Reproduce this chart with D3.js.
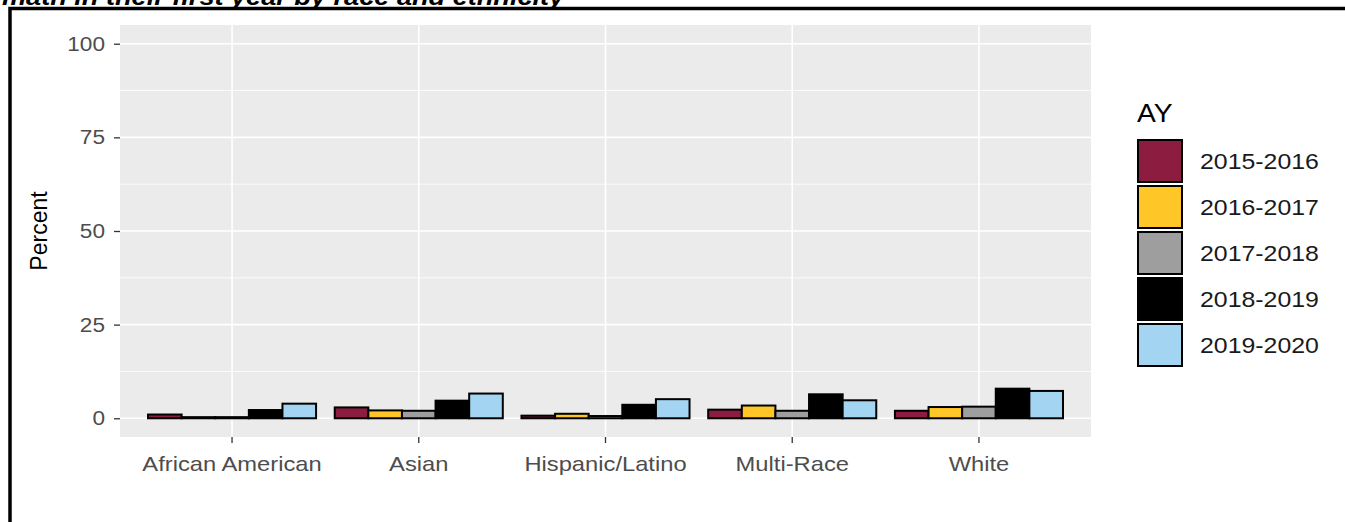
<!DOCTYPE html>
<html>
<head>
<meta charset="utf-8">
<script src="https://cdn.jsdelivr.net/npm/d3@7"></script>
<style>
  body { margin: 0; background: #fff; }
  svg { display: block; font-family: "Liberation Sans", Arial, sans-serif; }
</style>
</head>
<body>
<svg id="chart" width="1345" height="522"></svg>
<script>
// categories and series
const races = ['African American', 'Asian', 'Hispanic/Latino', 'Multi-Race', 'White'];
const years = ['2015-2016', '2016-2017', '2017-2018', '2018-2019', '2019-2020'];
const colors = ['#8C1D40', '#FFC627', '#9E9E9E', '#000000', '#A3D5F2'];

// percent per year, one value per race
const y2015 = [1.0, 2.9, 0.7, 2.3, 2.0];
const y2016 = [0.3, 2.1, 1.2, 3.4, 3.0];
const y2017 = [0.3, 2.0, 0.6, 2.0, 3.1];
const y2018 = [2.2, 4.7, 3.6, 6.4, 7.9];
const y2019 = [3.9, 6.6, 5.1, 4.8, 7.3];
const yTicks = [0, 25, 50, 75, 100];

const series = [y2015, y2016, y2017, y2018, y2019];
const rows = [];
races.forEach((r, i) => {
    years.forEach((yr, j) => {
        rows.push({ race: r, year: yr, value: series[j][i] });
    });
});

// the source picture is a bit wider than tall, so text is stretched sideways
const widen = 1.13;
function stretch(sel, k) {
    sel.each(function() {
        const w = this.getComputedTextLength();
        d3.select(this).attr('textLength', w * k).attr('lengthAdjust', 'spacingAndGlyphs');
    });
}

const svg = d3.select('#chart');

// title, cut off at the top of the picture
const title = svg.append('text')
    .attr('x', 2)
    .attr('y', 4.5)
    .style('font-size', '24px')
    .style('font-weight', 'bold')
    .style('font-style', 'italic')
    .attr('fill', '#000')
    .text('math in their first year by race and ethnicity');
stretch(title, widen);

// outer frame (only top and left visible)
svg.append('path')
    .attr('d', 'M10,522V8.5H1345')
    .attr('fill', 'none')
    .attr('stroke', '#000')
    .attr('stroke-width', 3.5);

const panel = { left: 120, right: 1091, top: 25, bottom: 437 };

const x = d3.scaleBand()
    .domain(races)
    .range([panel.left, panel.right])
    .paddingInner(0.1)
    .paddingOuter(0.15);

const xSub = d3.scaleBand()
    .domain(years)
    .range([0, x.bandwidth()]);

const y = d3.scaleLinear()
    .domain([-5, 105])
    .range([panel.bottom, panel.top]);

const color = d3.scaleOrdinal().domain(years).range(colors);

svg.append('rect')
    .attr('x', panel.left)
    .attr('y', panel.top)
    .attr('width', panel.right - panel.left)
    .attr('height', panel.bottom - panel.top)
    .attr('fill', '#EBEBEB');

// minor grid
svg.append('g')
    .selectAll('line')
    .data([12.5, 37.5, 62.5, 87.5])
    .join('line')
    .attr('x1', panel.left)
    .attr('x2', panel.right)
    .attr('y1', d => y(d))
    .attr('y2', d => y(d))
    .attr('stroke', '#fff')
    .attr('stroke-width', 0.8);

// major grid
svg.append('g')
    .selectAll('line')
    .data(yTicks)
    .join('line')
    .attr('x1', panel.left)
    .attr('x2', panel.right)
    .attr('y1', d => y(d))
    .attr('y2', d => y(d))
    .attr('stroke', '#fff')
    .attr('stroke-width', 1.6);

svg.append('g')
    .selectAll('line')
    .data(races)
    .join('line')
    .attr('x1', d => x(d) + x.bandwidth() / 2)
    .attr('x2', d => x(d) + x.bandwidth() / 2)
    .attr('y1', panel.top)
    .attr('y2', panel.bottom)
    .attr('stroke', '#fff')
    .attr('stroke-width', 1.6);

// bars
svg.append('g')
    .selectAll('rect')
    .data(rows)
    .join('rect')
    .attr('x', d => x(d.race) + xSub(d.year))
    .attr('y', d => y(d.value))
    .attr('width', xSub.bandwidth())
    .attr('height', d => y(0) - y(d.value))
    .attr('fill', d => color(d.year))
    .attr('stroke', '#000')
    .attr('stroke-width', 2);

// axes
const xAxis = svg.append('g')
    .attr('transform', 'translate(0,' + panel.bottom + ')')
    .call(d3.axisBottom(x).tickSize(6).tickPadding(8));
const yAxis = svg.append('g')
    .attr('transform', 'translate(' + panel.left + ',0)')
    .call(d3.axisLeft(y).tickValues(yTicks).tickSize(6).tickPadding(9));

[xAxis, yAxis].forEach(g => {
    g.select('.domain').remove();
    g.selectAll('.tick line').attr('stroke', '#333').attr('stroke-width', 1.3);
    g.selectAll('.tick text')
        .attr('fill', '#4D4D4D')
        .style('font-size', '20px')
        .style('font-family', '"Liberation Sans", Arial, sans-serif');
});
xAxis.selectAll('.tick text').attr('dy', '0.95em').style('font-size', '21px');
stretch(xAxis.selectAll('.tick text'), widen);
stretch(yAxis.selectAll('.tick text'), widen);

svg.append('text')
    .attr('transform', 'translate(47,' + y(50) + ') rotate(-90)')
    .attr('text-anchor', 'middle')
    .style('font-size', '23px')
    .attr('fill', '#000')
    .text('Percent');

// legend
const legend = svg.append('g').attr('transform', 'translate(1137,100)');
const legTitle = legend.append('text')
    .attr('x', 0)
    .attr('y', 22)
    .style('font-size', '25px')
    .attr('fill', '#000')
    .text('AY');
stretch(legTitle, widen);

const key = legend.selectAll('g.key')
    .data(years)
    .join('g')
    .attr('class', 'key')
    .attr('transform', (d, i) => 'translate(0,' + (39 + i * 46) + ')');
key.append('rect')
    .attr('x', 1)
    .attr('y', 1)
    .attr('width', 44)
    .attr('height', 42)
    .attr('fill', d => color(d))
    .attr('stroke', '#000')
    .attr('stroke-width', 2);
const keyText = key.append('text')
    .attr('x', 63)
    .attr('y', 22)
    .attr('dy', '0.35em')
    .style('font-size', '22px')
    .attr('fill', '#1A1A1A')
    .text(d => d);
stretch(keyText, widen);
</script>
</body>
</html>
